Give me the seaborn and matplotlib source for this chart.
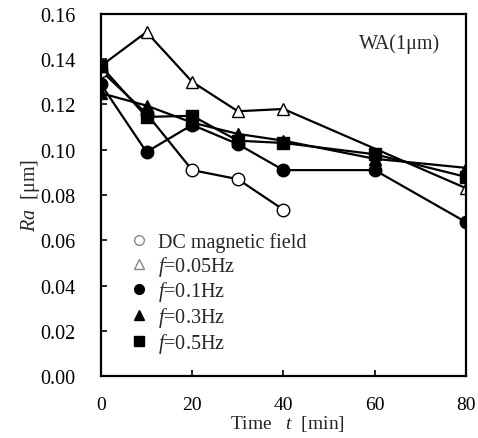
import numpy as np
import pandas as pd
import matplotlib
matplotlib.use('Agg')
import matplotlib.pyplot as plt
from matplotlib.lines import Line2D
import seaborn as sns

sns.set_style('ticks')
plt.rcParams['font.family'] = ['Liberation Serif', 'DejaVu Serif']
plt.rcParams['mathtext.fontset'] = 'custom'
plt.rcParams['mathtext.it'] = 'Liberation Serif:italic'
plt.rcParams['mathtext.rm'] = 'Liberation Serif'

# data
t_dc = [0, 10, 20, 30, 40]
ra_dc = [0.135, 0.116, 0.091, 0.087, 0.0735]
t_005 = [0, 10, 20, 30, 40, 80]
ra_005 = [0.137, 0.152, 0.130, 0.117, 0.118, 0.083]
t_01 = [0, 10, 20, 30, 40, 60, 80]
ra_01 = [0.129, 0.099, 0.111, 0.1025, 0.091, 0.091, 0.068]
t_03 = [0, 10, 20, 30, 40, 60, 80]
ra_03 = [0.125, 0.1195, 0.112, 0.107, 0.104, 0.096, 0.092]
t_05 = [0, 10, 20, 30, 40, 60, 80]
ra_05 = [0.137, 0.1145, 0.115, 0.104, 0.103, 0.098, 0.088]

labels = ['DC magnetic field', '$f$=0.05Hz', '$f$=0.1Hz', '$f$=0.3Hz', '$f$=0.5Hz']
series = [(t_dc, ra_dc), (t_005, ra_005), (t_01, ra_01), (t_03, ra_03), (t_05, ra_05)]
markers = ['o', '^', 'o', '^', 's']
faces = ['white', 'white', 'black', 'black', 'black']

fig = plt.figure(figsize=(4.78, 4.39), dpi=100)
ax = fig.add_axes([0.211, 0.141, 0.764, 0.825])

for (t, ra), m, fc in zip(series, markers, faces):
    df = pd.DataFrame({'t': t, 'ra': ra})
    sns.lineplot(data=df, x='t', y='ra', ax=ax, color='black', lw=1.6,
                 marker=m, markersize=9, markerfacecolor=fc,
                 markeredgecolor='black', markeredgewidth=1.0)

ax.set_xlim(0, 80)
ax.set_ylim(0, 0.16)
ax.set_xticks([0, 20, 40, 60, 80])
ax.set_yticks(np.arange(0, 0.161, 0.02))
ax.set_yticklabels([f'{v:.2f}' for v in np.arange(0, 0.161, 0.02)])
ax.tick_params(direction='in', length=4, width=1.2, labelsize=14.5, pad=18,
               colors='black')
ax.tick_params(axis='x', labelsize=14, pad=14)
for s in ax.spines.values():
    s.set_linewidth(1.6)
    s.set_color('black')

ax.set_xlabel('Time   $t$  [min]', fontsize=14)
ax.xaxis.set_label_coords(0.51, -0.102)
ax.set_ylabel('$Ra$  [μm]', fontsize=14.5, labelpad=-1)
ax.text(0.93, 0.92, 'WA(1μm)', transform=ax.transAxes, ha='right', va='center',
        fontsize=14.5)

handles = []
for m, fc in zip(markers, faces):
    ec = '#888888' if fc == 'white' else 'black'
    handles.append(Line2D([], [], ls='none', marker=m, markersize=7,
                          markerfacecolor=fc, markeredgecolor=ec))
ax.legend(handles, labels, loc='upper left', bbox_to_anchor=(0.05, 0.425),
          frameon=False, fontsize=14.5, handletextpad=0.45, labelspacing=0.08,
          handlelength=1.0, borderpad=0)

fig.savefig('out.png', dpi=100)
